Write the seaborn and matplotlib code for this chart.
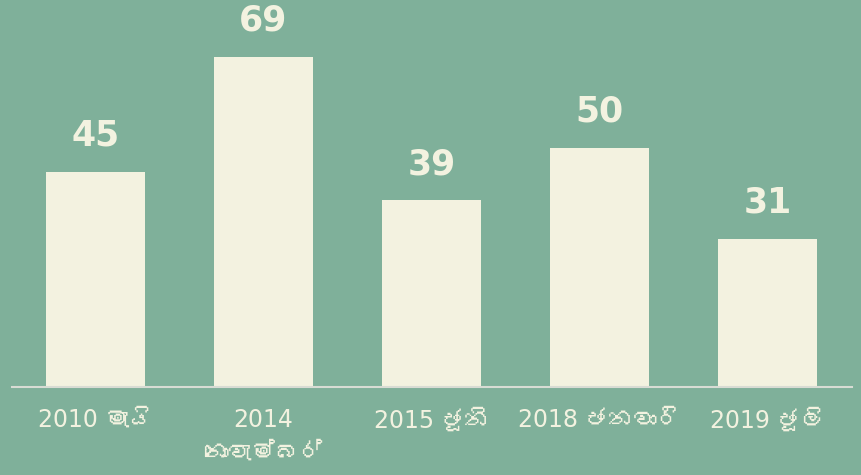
import numpy as np
import pandas as pd
import seaborn as sns
from matplotlib import pyplot as plt
from matplotlib import font_manager
from matplotlib.ft2font import FT2Font

periods = ["2010 මැයි", "2014\nනොවැම්බර්", "2015 ජූනි", "2018 ජනවාරි", "2019 ජූලි"]
values = [45, 69, 39, 50, 31]

BG = "#7FB09A"
BAR = "#F3F2E0"
TXT = "#F3F2E0"


def sinhala_family():
    # look for any installed face that has Sinhala glyphs
    for fe in font_manager.fontManager.ttflist:
        try:
            if 0x0DB8 in FT2Font(fe.fname).get_charmap():
                return fe.name
        except Exception:
            continue
    return None


sns.set_theme(style="white")
fam = sinhala_family()
plt.rcParams["font.family"] = ["DejaVu Sans", fam] if fam else ["DejaVu Sans"]

df = pd.DataFrame({"period": periods, "value": values})

fig = plt.figure(figsize=(8.61, 4.75), dpi=100, facecolor=BG)
ax = fig.add_axes([11.5 / 861, 88 / 475, 840 / 861, 387 / 475])
ax.set_facecolor(BG)

sns.barplot(data=df, x="period", y="value", color=BAR, width=0.59,
            saturation=1, linewidth=0, ax=ax)

for p, v in zip(ax.patches, values):
    ax.text(p.get_x() + p.get_width() / 2, v + 4, str(v), ha="center",
            va="bottom", fontsize=25, fontweight="heavy", color=TXT)

ax.set_xlim(-0.5, 4.5)
ax.set_ylim(0, 80.9)
ax.set_xlabel("")
ax.set_ylabel("")
ax.set_yticks([])
ax.tick_params(axis="x", length=0, pad=15, labelsize=17, labelcolor=TXT)
for lbl in ax.get_xticklabels():
    lbl.set_va("top")
    lbl.set_linespacing(1.45)
sns.despine(ax=ax, left=True)
ax.spines["bottom"].set_color("#D8DCD4")
ax.spines["bottom"].set_linewidth(1.5)

plt.savefig("out.png", dpi=100, facecolor=BG)
